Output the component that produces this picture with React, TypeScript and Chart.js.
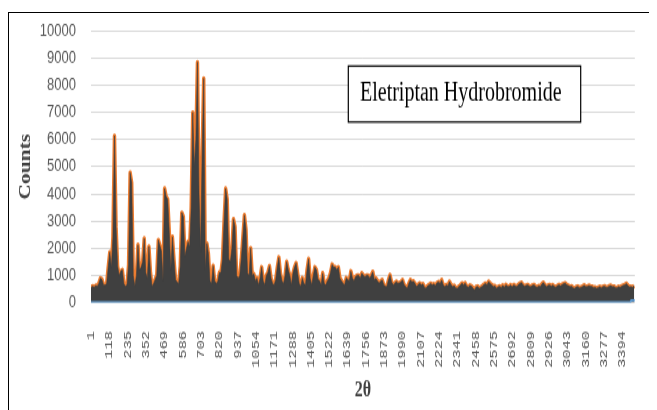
import { useEffect, useRef } from "react";
import { Chart, registerables } from "chart.js";

Chart.register(...registerables);

// Scan point numbering: first point, spacing of the stored readings, last point
const SCAN_START = 1;
const SCAN_STEP = 10;
const SCAN_END = 3475;

// Diffraction intensity (counts), one reading every SCAN_STEP scan points
const counts = [
  550, 600, 560, 620, 600, 700, 890, 850, 650, 640,
  700, 1300, 1850, 1300, 2400, 6140, 2800, 1340, 1000, 1150,
  1200, 700, 600, 650, 1400, 4780, 4400, 1000, 600, 1000,
  2120, 1200, 1300, 1500, 2360, 1100, 900, 2060, 1100, 600,
  700, 850, 1000, 2300, 2100, 1900, 800, 4200, 3900, 3800,
  2600, 1200, 2420, 1600, 850, 750, 700, 1330, 3310, 3160,
  1700, 2000, 2240, 2050, 3500, 7000, 5000, 6000, 8850, 4000,
  1900, 5500, 8250, 1200, 2180, 1800, 800, 700, 1350, 800,
  700, 780, 1100, 1100, 1600, 3000, 4200, 3800, 1600, 1500,
  2000, 3070, 2800, 1000, 900, 1000, 1600, 2400, 3220, 2700,
  1080, 1000, 2000, 1000, 1050, 800, 900, 640, 900, 1300,
  800, 640, 1000, 1100, 1340, 900, 700, 640, 850, 1300,
  1660, 1080, 800, 700, 1000, 1500, 1200, 1000, 640, 1080,
  1300, 1450, 1080, 700, 600, 900, 700, 640, 1200, 1600,
  900, 640, 1000, 1300, 1200, 850, 800, 640, 1080, 700,
  640, 800, 900, 1100, 1400, 1300, 1300, 1200, 1300, 900,
  800, 700, 640, 900, 850, 800, 1150, 900, 800, 950,
  1000, 1000, 900, 1080, 1000, 950, 1000, 1000, 900, 1000,
  1130, 830, 890, 800, 710, 780, 830, 650, 600, 580,
  830, 1010, 760, 650, 700, 770, 710, 720, 760, 830,
  650, 590, 520, 700, 830, 760, 780, 690, 580, 660,
  710, 640, 680, 560, 520, 610, 650, 700, 640, 680,
  620, 720, 760, 700, 830, 640, 580, 650, 610, 770,
  650, 580, 620, 540, 520, 590, 640, 710, 650, 710,
  600, 560, 630, 600, 540, 460, 570, 590, 520, 560,
  600, 660, 700, 650, 770, 700, 650, 580, 610, 520,
  570, 600, 550, 630, 560, 650, 600, 580, 640, 570,
  650, 610, 580, 660, 700, 730, 640, 600, 630, 650,
  600, 580, 630, 650, 590, 560, 610, 590, 680, 730,
  640, 580, 630, 650, 600, 640, 590, 560, 620, 650,
  610, 660, 690, 710, 640, 620, 580, 600, 540, 520,
  570, 590, 540, 560, 590, 630, 580, 590, 620, 600,
  590, 550, 560, 520, 550, 580, 540, 580, 600, 560,
  560, 600, 620, 580, 590, 550, 540, 580, 560, 600,
  630, 650, 690, 620, 570, 580, 560, 620,
];

// Second trace of the sheet, lying along the bottom of the plot
const baselineIndex = [1, 3445, 3452, 3475];
const baselineValues = [0, 0, 80, 80];

// Category labels printed along the x axis
const xTickLabels = [
  1, 118, 235, 352, 469, 586, 703, 820, 937, 1054, 1171, 1288, 1405, 1522, 1639,
  1756, 1873, 1990, 2107, 2224, 2341, 2458, 2575, 2692, 2809, 2926, 3043, 3160, 3277, 3394,
];

const Y_MIN = 0;
const Y_MAX = 10000;
const Y_STEP = 1000;

const chartTitle = "Eletriptan Hydrobromide";
const yAxisTitle = "Counts";
const xAxisTitle = "2θ";

// Framed title drawn inside the plot area
const titleBox = {
  id: "titleBox",
  afterDatasetsDraw(chart: any) {
    const { ctx, chartArea } = chart;
    const x = chartArea.left + 257.3;
    const y = chartArea.top + 26;
    const w = 232.4;
    const h = 41.5;
    ctx.save();
    ctx.fillStyle = "#ffffff";
    ctx.fillRect(x, y, w, h);
    ctx.lineWidth = 1.2;
    ctx.strokeStyle = "#000000";
    ctx.strokeRect(x, y, w, h);
    ctx.font = "normal 20px 'Liberation Serif', 'Times New Roman', serif";
    ctx.fillStyle = "#000000";
    ctx.textBaseline = "alphabetic";
    ctx.textAlign = "left";
    ctx.fillText(chartTitle, x + 11.7, y + 25.6);
    ctx.restore();
  },
};

export default function App() {
  const canvasRef = useRef<HTMLCanvasElement>(null);

  useEffect(() => {
    const canvas = canvasRef.current;
    if (!canvas) return;

    const countPoints = counts.map((y, i) => ({ x: SCAN_START + i * SCAN_STEP, y }));
    const baselinePoints = baselineIndex.map((x, i) => ({ x, y: baselineValues[i] }));

    const chart = new Chart(canvas, {
      type: "line",
      data: {
        datasets: [
          {
            label: "Baseline",
            data: baselinePoints,
            borderColor: "#5B9BD5",
            borderWidth: 1.8,
            pointRadius: 0,
            fill: false,
            order: 1,
          },
          {
            label: "Counts (body)",
            data: countPoints,
            borderColor: "#404040",
            backgroundColor: "#404040",
            borderWidth: 0.6,
            pointRadius: 0,
            fill: "origin",
            order: 2,
          },
          {
            label: "Counts",
            data: countPoints,
            borderColor: "#ED7D31",
            borderWidth: 3.5,
            borderJoinStyle: "round",
            pointRadius: 0,
            fill: false,
            order: 3,
          },
        ],
      },
      options: {
        animation: false,
        responsive: false,
        devicePixelRatio: 1,
        layout: { padding: { top: 13.3, right: 1, left: 0, bottom: 0 } },
        plugins: {
          legend: { display: false },
          tooltip: { enabled: false },
        },
        scales: {
          x: {
            type: "linear",
            min: SCAN_START,
            max: SCAN_END,
            grid: { display: false },
            border: { display: false },
            afterBuildTicks: (scale: any) => {
              scale.ticks = xTickLabels.map((v) => ({ value: v }));
            },
            afterFit: (scale: any) => {
              scale.height = 74.5;
            },
            ticks: {
              autoSkip: false,
              minRotation: 90,
              maxRotation: 90,
              padding: 13,
              color: "#595959",
              font: { family: "'Liberation Mono', monospace", size: 11.5 },
              callback: (v: any) => String(v),
            },
            title: {
              display: true,
              text: xAxisTitle,
              color: "#404040",
              font: { family: "'Liberation Serif', serif", size: 16, weight: "bold" },
              padding: { top: 0, bottom: 0 },
            },
          },
          y: {
            min: Y_MIN,
            max: Y_MAX,
            afterFit: (scale: any) => {
              scale.width = 82;
            },
            grid: {
              color: "#d9d9d9",
              lineWidth: 1,
              drawTicks: true,
              tickLength: 15,
              tickColor: "rgba(0,0,0,0)",
            },
            border: { display: false },
            ticks: {
              stepSize: Y_STEP,
              padding: 0,
              color: "#595959",
              font: { family: "'Liberation Sans', Arial, sans-serif", size: 13 },
              callback: (v: any) => String(v),
            },
            title: {
              display: true,
              text: yAxisTitle,
              color: "#404040",
              font: { family: "'Liberation Serif', serif", size: 16, weight: "bold" },
              padding: { top: 7, bottom: 0 },
            },
          },
        },
      },
      plugins: [titleBox],
    });

    return () => chart.destroy();
  }, []);

  return (
    <div
      style={{
        position: "relative",
        top: 4,
        width: 640,
        height: 400,
        border: "1px solid #000",
        background: "#fff",
      }}
    >
      <canvas
        ref={canvasRef}
        width={640}
        height={289}
        style={{ display: "block", width: "640px", height: "390px" }}
      />
    </div>
  );
}
